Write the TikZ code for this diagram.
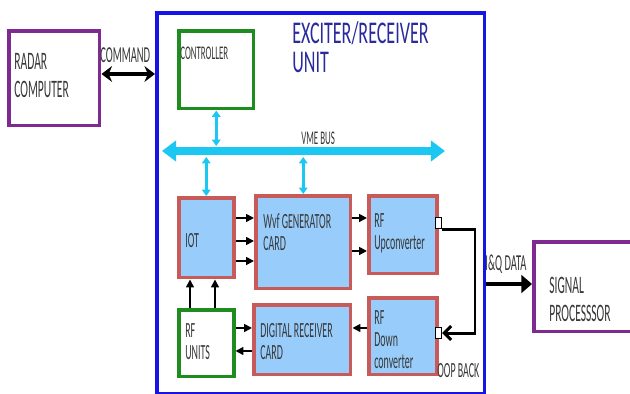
\documentclass[tikz,border=0pt]{standalone}
\usepackage{fontspec}
\setmainfont{Carlito}[FakeStretch=0.46]
\newfontfamily\titlefont{Carlito}[FakeStretch=0.57]
\usetikzlibrary{arrows.meta,positioning}
\definecolor{radarpurple}{HTML}{7E2A90}
\definecolor{unitblue}{HTML}{1414E6}
\definecolor{ctrlgreen}{HTML}{1E8C1E}
\definecolor{cardred}{HTML}{C85A5A}
\definecolor{cardfill}{HTML}{98CCFA}
\definecolor{buscyan}{HTML}{1CC8F2}
\definecolor{titleblue}{HTML}{2A2A9C}
\definecolor{textgrey}{HTML}{383838}

\begin{document}
\begin{tikzpicture}[
  x=0.02cm, y=-0.02cm,
  every node/.style={inner sep=0pt, text=textgrey},
  box/.style={draw, line width=2pt, anchor=north west},
  card/.style={box, draw=cardred, fill=cardfill},
  port/.style={draw, line width=0.6pt, fill=white, anchor=north west, minimum width=0.12cm, minimum height=0.22cm},
  lbl/.style={anchor=north west, align=left, font=\fontsize{12.3}{12.6}\selectfont},
  biglbl/.style={anchor=north west, align=left, font=\fontsize{14.3}{15.9}\selectfont},
  sig/.style={-{Triangle[width=4.5pt,length=4.5pt]}, line width=0.9pt},
  bus/.style={{Triangle[width=4.8pt,length=3.6pt]}-{Triangle[width=4.8pt,length=3.6pt]}, line width=1.7pt, draw=buscyan}
]
\clip (0,0) rectangle (630,394);
\fill[white] (0,0) rectangle (630,394);

% outer blocks
\node[box, draw=radarpurple, minimum width=1.82cm, minimum height=1.90cm] (radar) at (7,29) {};
\node[box, draw=unitblue, minimum width=6.56cm, minimum height=7.62cm] (unit) at (155,11) {};
\node[box, draw=radarpurple, minimum width=2.40cm, minimum height=1.80cm] (sigproc) at (532,240) {};
\node[box, draw=ctrlgreen, minimum width=1.50cm, minimum height=1.56cm] (ctrl) at (177,29) {};

% cards
\node[card, minimum width=1.10cm, minimum height=1.60cm] (iot) at (177,196) {};
\node[card, minimum width=1.90cm, minimum height=1.86cm] (wvf) at (254,194) {};
\node[card, minimum width=1.36cm, minimum height=1.56cm] (rfup) at (367,194) {};
\node[box, draw=ctrlgreen, fill=white, minimum width=1.10cm, minimum height=1.34cm] (rfunits) at (177,308) {};
\node[card, minimum width=1.94cm, minimum height=1.40cm] (digrx) at (252,303) {};
\node[card, minimum width=1.36cm, minimum height=1.54cm] (rfdown) at (367,296) {};
\node[port] (upport) at (435,217) {};
\node[port] (downport) at (435,327) {};

% texts
\node[biglbl] (radar-t) at (14,53) {RADAR\\COMPUTER};
\node[biglbl] (sigproc-t) at (549,277) {SIGNAL\\PROCESSSOR};
\node[anchor=north west, align=left, text=titleblue, font=\titlefont\fontsize{18}{16.4}\selectfont] (unit-t) at (292,21) {EXCITER/RECEIVER\\UNIT};
\node[lbl, font=\fontsize{11}{10}\selectfont] (ctrl-t) at (180,47) {CONTROLLER};
\node[lbl] (iot-t) at (185,233) {IOT};
\node[lbl] (wvf-t) at (263,213) {Wvf GENERATOR\\CARD};
\node[lbl] (rfup-t) at (374,213) {RF\\Upconverter};
\node[lbl] (rfunits-t) at (185,323) {RF\\UNITS};
\node[lbl] (digrx-t) at (260,323) {DIGITAL RECEIVER\\CARD};
\node[lbl] (rfdown-t) at (374,310) {RF\\Down\\converter};

% VME bus
\coordinate (busL) at (162,151);
\coordinate (busR) at (445,151);
\coordinate (busT) at (0,146);
\coordinate (busB) at (0,157);
\draw[{Triangle[width=11.5pt,length=8pt]}-{Triangle[width=11.5pt,length=8pt]}, line width=4.4pt, draw=buscyan] (busL) -- (busR);
\node[lbl, font=\fontsize{11}{10}\selectfont] (bus-t) at (301,132) {VME BUS};
\draw[bus] (ctrl.south) -- (ctrl.south |- busT);
\draw[bus] (busB -| iot.north) -- (iot.north);
\draw[bus] (busB -| wvf.north) -- (wvf.north);

% external links
\draw[{Stealth[width=9pt,length=6pt]}-{Stealth[width=9pt,length=6pt]}, line width=2.2pt] (radar.east |- 0,74) -- (unit.west |- 0,74);
\node[lbl, font=\fontsize{13}{12}\selectfont] (cmd-t) at (100,47) {COMMAND};
\draw[-{Triangle[width=10pt,length=6pt]}, line width=2.8pt] (unit.east |- 0,284) -- (sigproc.west |- 0,284);
\node[lbl, font=\fontsize{13}{12}\selectfont] (iq-t) at (485,255) {I\&Q DATA};

% signal paths
\foreach \yy in {218,241,261}
  \draw[sig] (iot.east |- 0,\yy) -- (wvf.west |- 0,\yy);
\foreach \yy in {218,251}
  \draw[sig] (wvf.east |- 0,\yy) -- (rfup.west |- 0,\yy);
\foreach \xx in {190,215}
  \draw[sig] (rfunits.north -| \xx,0) -- (iot.south -| \xx,0);
\draw[sig] (rfunits.east |- 0,328) -- (digrx.west |- 0,328);
\draw[sig] (digrx.west |- 0,351) -- (rfunits.east |- 0,351);
\draw[sig] (rfdown.west |- 0,328) -- (digrx.east |- 0,328);

% loop back
\coordinate (loopc) at (475,282);
\draw[-{Straight Barb[width=8pt,length=4pt]}, line width=1.7pt] (upport.south east) -| (loopc) |- (downport.east);
\node[lbl, font=\fontsize{12.3}{12}\selectfont] (loop-t) at (437,363) {OOP BACK};
\end{tikzpicture}
\end{document}
